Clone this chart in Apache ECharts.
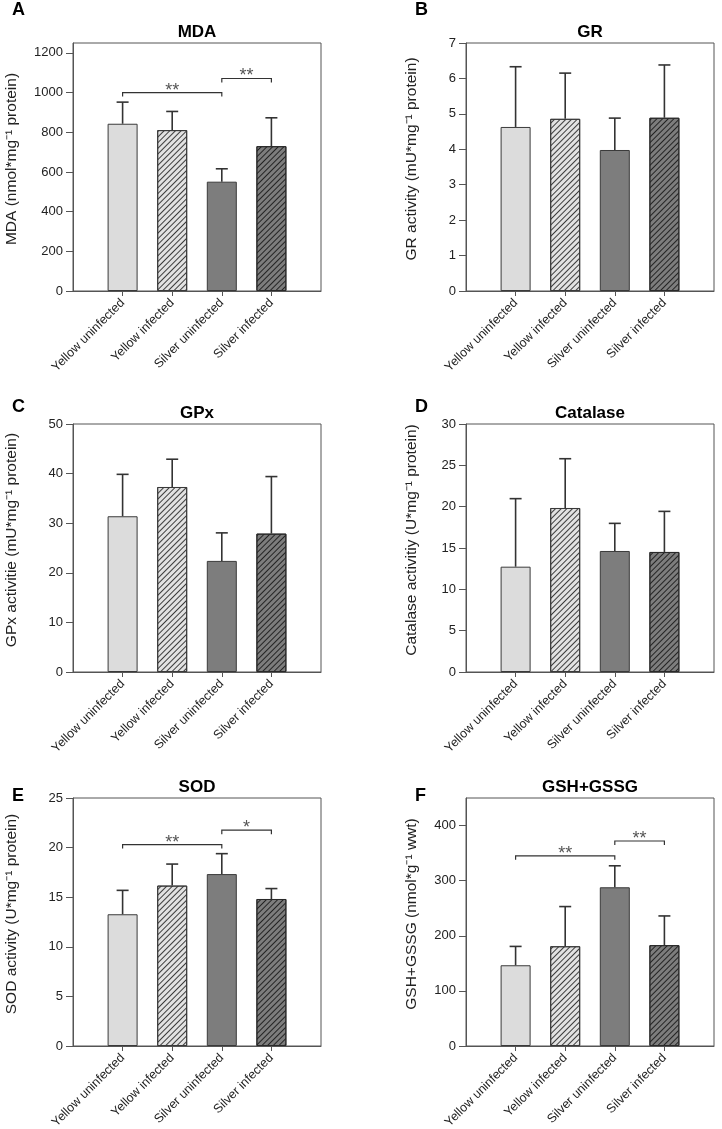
<!DOCTYPE html>
<html><head><meta charset="utf-8">
<script src="https://cdn.jsdelivr.net/npm/echarts@6/dist/echarts.min.js"></script>
<style>html,body{margin:0;padding:0;background:#fff}#c{width:722px;height:1129px}</style>
</head><body><div id="c"></div>
<script>
// ---------- data ----------
const categories = ['Yellow uninfected', 'Yellow infected', 'Silver uninfected', 'Silver infected'];

const mdaMean  = [843, 811, 551, 730];
const mdaUpper = [952, 905, 616, 873];
const mdaTicks = [0, 200, 400, 600, 800, 1000, 1200];
const mdaBrackets = [[0, 2, 1000], [2, 3, 1071]];
const mdaStars = ['**', '**'];

const grMean  = [4.63, 4.86, 3.98, 4.89];
const grUpper = [6.33, 6.15, 4.88, 6.38];
const grTicks = [0, 1, 2, 3, 4, 5, 6, 7];

const gpxMean  = [31.4, 37.3, 22.4, 27.9];
const gpxUpper = [39.85, 42.9, 28.05, 39.4];
const gpxTicks = [0, 10, 20, 30, 40, 50];

const catMean  = [12.74, 19.84, 14.64, 14.52];
const catUpper = [20.97, 25.8, 17.98, 19.43];
const catTicks = [0, 5, 10, 15, 20, 25, 30];

const sodMean  = [13.28, 16.17, 17.33, 14.82];
const sodUpper = [15.69, 18.34, 19.39, 15.87];
const sodTicks = [0, 5, 10, 15, 20, 25];
const sodBrackets = [[0, 2, 20.3], [2, 3, 21.76]];
const sodStars = ['**', '*'];

const gshMean  = [146.5, 181, 288, 183];
const gshUpper = [180.7, 253, 327, 236];
const gshTicks = [0, 100, 200, 300, 400];
const gshBrackets = [[0, 2, 345], [2, 3, 372]];
const gshStars = ['**', '**'];

// ---------- styles ----------
const FONT = "'Liberation Sans', Arial, sans-serif";
const AX = '#555';
const barStyles = [
  { color: '#dcdcdc', borderColor: '#3a3a3a', borderWidth: 1 },
  { color: '#e2e2e2', borderColor: '#3a3a3a', borderWidth: 1,
    decal: { symbol: 'rect', symbolSize: 1, dashArrayX: [1, 0], dashArrayY: [1, 3], rotation: -Math.PI / 4, color: 'rgba(30,30,30,0.85)' } },
  { color: '#7d7d7d', borderColor: '#3a3a3a', borderWidth: 1 },
  { color: '#7d7d7d', borderColor: '#2a2a2a', borderWidth: 1,
    decal: { symbol: 'rect', symbolSize: 1, dashArrayX: [1, 0], dashArrayY: [1, 3], rotation: -Math.PI / 4, color: 'rgba(25,25,25,0.9)' } }
];

const panels = [
  { letter: 'A', title: 'MDA', yName: 'MDA (nmol*mg⁻¹ protein)', mean: mdaMean, upper: mdaUpper, ticks: mdaTicks, max: 1250, brackets: mdaBrackets, stars: mdaStars, left: 73, top: 43, nameGap: 53 },
  { letter: 'B', title: 'GR', yName: 'GR activity (mU*mg⁻¹ protein)', mean: grMean, upper: grUpper, ticks: grTicks, max: 7, brackets: [], stars: [], left: 466, top: 43, nameGap: 46 },
  { letter: 'C', title: 'GPx', yName: 'GPx activitie (mU*mg⁻¹ protein)', mean: gpxMean, upper: gpxUpper, ticks: gpxTicks, max: 50, brackets: [], stars: [], left: 73, top: 424, nameGap: 53 },
  { letter: 'D', title: 'Catalase', yName: 'Catalase activitiy (U*mg⁻¹ protein)', mean: catMean, upper: catUpper, ticks: catTicks, max: 30, brackets: [], stars: [], left: 466, top: 424, nameGap: 46 },
  { letter: 'E', title: 'SOD', yName: 'SOD activity (U*mg⁻¹ protein)', mean: sodMean, upper: sodUpper, ticks: sodTicks, max: 25, brackets: sodBrackets, stars: sodStars, left: 73, top: 798, nameGap: 53 },
  { letter: 'F', title: 'GSH+GSSG', yName: 'GSH+GSSG (nmol*g⁻¹ wwt)', mean: gshMean, upper: gshUpper, ticks: gshTicks, max: 450, brackets: gshBrackets, stars: gshStars, left: 466, top: 798, nameGap: 46 }
];

const GW = 248, GH = 248;
const catIdx = categories.map((c, i) => i);

const grid = [], xAxis = [], yAxis = [], series = [], graphic = [];

panels.forEach((p, i) => {
  grid.push({ left: p.left, top: p.top, width: GW, height: GH, show: true, borderColor: AX, borderWidth: 1,
    backgroundColor: 'transparent', containLabel: false, outerBoundsMode: 'none' });
  xAxis.push({
    gridIndex: i, type: 'value', min: -1, max: 4, position: 'bottom',
    splitLine: { show: false },
    axisLine: { show: true, onZero: false, lineStyle: { color: AX, width: 1 } },
    axisTick: { show: true, length: 5, customValues: catIdx, lineStyle: { color: AX } },
    axisLabel: { customValues: catIdx, formatter: v => categories[Math.round(v)], rotate: 45, fontSize: 12.5, fontFamily: FONT, color: '#222', margin: 10 }
  });
  yAxis.push({
    gridIndex: i, type: 'value', min: 0, max: p.max, position: 'left',
    splitLine: { show: false },
    axisLine: { show: true, onZero: false, lineStyle: { color: AX, width: 1 } },
    axisTick: { show: true, length: 7, customValues: p.ticks, lineStyle: { color: AX } },
    axisLabel: { customValues: p.ticks, formatter: v => String(v), fontSize: 13, fontFamily: FONT, color: '#222', margin: 10 },
    name: p.yName, nameLocation: 'middle', nameGap: p.nameGap,
    nameTextStyle: { fontSize: 15.5, fontFamily: FONT, color: '#222', padding: [0, 0, 0, 16] }
  });
  series.push({
    type: 'bar', xAxisIndex: i, yAxisIndex: i, barWidth: 30, silent: true,
    data: p.mean.map((v, j) => ({ value: [j, v], itemStyle: barStyles[j] }))
  });
  series.push({
    type: 'custom', xAxisIndex: i, yAxisIndex: i, silent: true, z: 3,
    data: p.mean.map((v, j) => [j, v, p.upper[j]]),
    renderItem: (params, api) => {
      const a = api.coord([api.value(0), api.value(1)]);
      const b = api.coord([api.value(0), api.value(2)]);
      const st = { stroke: '#333', lineWidth: 1.6, fill: null };
      return { type: 'group', children: [
        { type: 'line', shape: { x1: a[0], y1: a[1], x2: b[0], y2: b[1] }, style: st },
        { type: 'line', shape: { x1: b[0] - 6, y1: b[1], x2: b[0] + 6, y2: b[1] }, style: st }
      ] };
    }
  });
  if (p.brackets.length) {
    series.push({
      type: 'custom', xAxisIndex: i, yAxisIndex: i, silent: true, z: 4,
      data: p.brackets,
      renderItem: (params, api) => {
        const a = api.coord([api.value(0), api.value(2)]);
        const b = api.coord([api.value(1), api.value(2)]);
        return { type: 'group', children: [
          { type: 'polyline', shape: { points: [[a[0], a[1] + 4], [a[0], a[1]], [b[0], b[1]], [b[0], b[1] + 4]] },
            style: { stroke: '#333', lineWidth: 1.2, fill: null } },
          { type: 'text', x: (a[0] + b[0]) / 2, y: a[1] - 2,
            style: { text: p.stars[params.dataIndex], font: '18px ' + FONT, fill: '#555', align: 'center', verticalAlign: 'middle' } }
        ] };
      }
    });
  }
  graphic.push({ type: 'text', x: p.left + GW / 2, y: p.top - 11,
    style: { text: p.title, font: 'bold 17px ' + FONT, fill: '#000', align: 'center', verticalAlign: 'middle' } });
  graphic.push({ type: 'text', x: p.left < 200 ? 12 : 415, y: p.top - (p.top < 100 ? 33 : (p.top < 500 ? 17 : 2)),
    style: { text: p.letter, font: 'bold 18px ' + FONT, fill: '#000', align: 'left', verticalAlign: 'middle' } });
});

const chart = echarts.init(document.getElementById('c'), null, { renderer: 'canvas' });
chart.setOption({ animation: false, backgroundColor: '#fff', grid, xAxis, yAxis, series, graphic });
</script></body></html>
